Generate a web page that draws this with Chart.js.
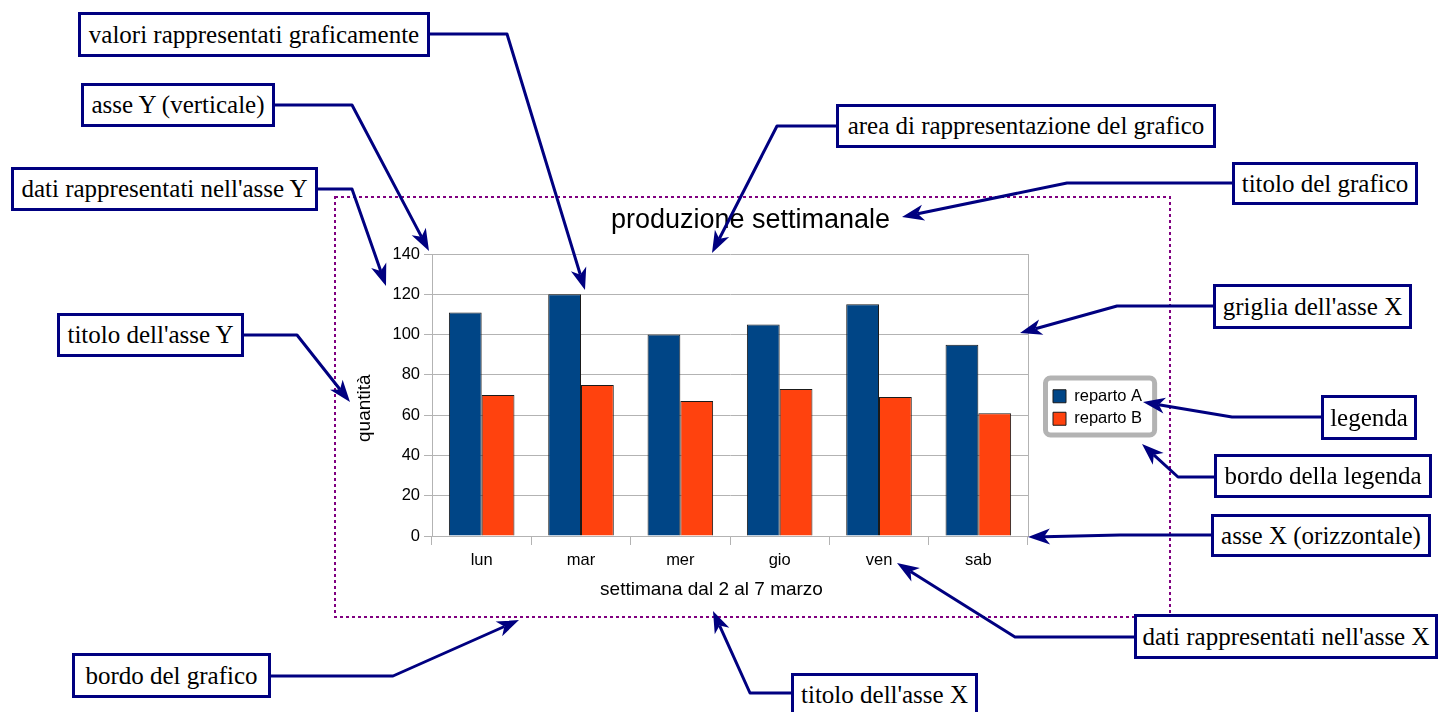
<!DOCTYPE html>
<html>
<head>
<meta charset="utf-8">
<script src="https://cdn.jsdelivr.net/npm/chart.js@4.4.0/dist/chart.umd.min.js"></script>
<style>
  body { margin: 0; background: #fff; }
  #pagina { position: relative; width: 1446px; height: 712px; overflow: hidden; }
  #grafico { position: absolute; left: 335px; top: 197px; width: 836px; height: 421px; }
  #frecce { position: absolute; left: 0; top: 0; }
  .nota { position: absolute; box-sizing: border-box; border: 3px solid #000080; background: #fff;
          font-family: 'Liberation Serif', serif; font-size: 25px; color: #000;
          display: flex; align-items: center; justify-content: center; white-space: nowrap; }
</style>
</head>
<body>
<div id="pagina">
  <div id="grafico"><canvas id="myChart" width="836" height="421"></canvas></div>
  <svg id="frecce" width="1446" height="712"></svg>
</div>
<script>
const giorni = ['lun', 'mar', 'mer', 'gio', 'ven', 'sab']
const repartoA = [111, 120, 100, 105, 115, 95]
const repartoB = [70, 75, 67, 73, 69, 61]
const tickY = [0, 20, 40, 60, 80, 100, 120, 140]

const ctx = document.getElementById('myChart').getContext('2d')

Chart.defaults.font.family = "'Liberation Sans', Arial, sans-serif"
Chart.defaults.color = '#000'

// bordo grigio arrotondato attorno alla legenda
const bordoLegenda = {
    id: 'bordoLegenda',
    afterDraw(chart) {
        const hb = chart.legend.legendHitBoxes
        if (!hb || !hb.length) return
        const c = chart.ctx
        const x0 = hb[0].left - 7.5
        const y0 = hb[0].top - 10
        const x1 = Math.max(...hb.map(h => h.left + h.width)) + 12.5
        const ultimo = hb[hb.length - 1]
        const y1 = ultimo.top + ultimo.height + 8
        c.save()
        c.strokeStyle = '#b3b3b3'
        c.lineWidth = 5
        c.beginPath()
        c.roundRect(x0, y0, x1 - x0, y1 - y0, 5)
        c.stroke()
        c.restore()
    }
}

const render = new Chart(ctx, {
    type: 'bar',
    data: {
        labels: giorni,
        datasets: [{
            label: 'reparto A',
            data: repartoA,
            backgroundColor: '#004586',
            borderColor: '#1a1a1a',
            borderWidth: 1
        }, {
            label: 'reparto B',
            data: repartoB,
            backgroundColor: '#ff420e',
            borderColor: '#1a1a1a',
            borderWidth: 1
        }]
    },
    options: {
        responsive: false,
        animation: false,
        categoryPercentage: 0.66,
        barPercentage: 1,
        layout: { padding: { left: 0, right: 20, top: 0, bottom: 0 } },
        plugins: {
            title: {
                display: true,
                text: '\u00a0\u00a0produzione settimanale',
                color: '#000',
                font: { size: 27, weight: 'normal' },
                padding: { top: 7.8, bottom: 16.8 }
            },
            legend: {
                position: 'right',
                maxWidth: 104,
                labels: {
                    boxWidth: 13,
                    boxHeight: 13,
                    padding: 6,
                    color: '#000',
                    font: { size: 16.5 }
                }
            },
            tooltip: { enabled: false }
        },
        scales: {
            x: {
                grid: { drawOnChartArea: false, color: '#b3b3b3', tickLength: 9 },
                border: { color: '#b3b3b3' },
                ticks: { padding: 6, font: { size: 16.5 } },
                title: {
                    display: true,
                    text: 'settimana dal 2 al 7 marzo' + '\u00a0'.repeat(7),
                    font: { size: 19 },
                    padding: { top: 0, bottom: 16.8 }
                },
                afterFit: s => { s.height = 82 }
            },
            y: {
                min: tickY[0],
                max: tickY[tickY.length - 1],
                grid: { color: '#b3b3b3', tickLength: 8 },
                border: { color: '#b3b3b3' },
                ticks: { padding: 4, font: { size: 16.5 } },
                afterBuildTicks: s => { s.ticks = tickY.map(v => ({ value: v })) },
                title: {
                    display: true,
                    text: 'quantità' + '\u00a0'.repeat(5),
                    font: { size: 19 },
                    padding: { top: 18.6, bottom: 0 }
                },
                afterFit: s => { s.width = 97 }
            },
            y2: {
                type: 'linear',
                position: 'right',
                grid: { display: false },
                border: { display: true, color: '#b3b3b3' },
                ticks: { display: false },
                afterFit: s => { s.width = 19 }
            }
        }
    },
    plugins: [bordoLegenda]
})

// annotazioni: testo, riquadro [sinistra, alto, destra, basso], percorso della freccia
const note = [
    ['valori rappresentati graficamente', [78, 12, 430, 57], [[430, 34], [507, 34], [585, 290]]],
    ['asse Y (verticale)', [81, 83, 275, 127], [[275, 105], [352, 105], [429, 251]]],
    ["dati rappresentati nell'asse Y", [11, 167, 318, 211], [[318, 189], [352, 189], [386, 286]]],
    ["titolo dell'asse Y", [57, 313, 244, 357], [[244, 335], [297, 335], [350, 402]]],
    ['bordo del grafico', [72, 653, 271, 698], [[271, 676], [393, 676], [519, 620]]],
    ["titolo dell'asse X", [791, 673, 978, 716], [[791, 693], [750, 693], [713, 611]]],
    ["dati rappresentati nell'asse X", [1134, 614, 1438, 659], [[1134, 637], [1015, 637], [897, 563]]],
    ['asse X (orizzontale)', [1211, 514, 1431, 557], [[1211, 535], [1120, 535], [1028, 537]]],
    ['bordo della legenda', [1214, 454, 1432, 498], [[1214, 477], [1178, 477], [1142, 444]]],
    ['legenda', [1321, 395, 1417, 440], [[1321, 417], [1232, 417], [1143, 402]]],
    ["griglia dell'asse X", [1213, 284, 1412, 329], [[1213, 306], [1117, 306], [1020, 333]]],
    ['titolo del grafico', [1232, 162, 1418, 205], [[1232, 183], [1067, 183], [902, 217]]],
    ['area di rappresentazione del grafico', [836, 104, 1216, 148], [[836, 126], [777, 126], [712, 253]]]
]

const svg = document.getElementById('frecce')
const NS = 'http://www.w3.org/2000/svg'

function elemento(tag, attr) {
    const el = document.createElementNS(NS, tag)
    for (const k in attr) el.setAttribute(k, attr[k])
    svg.appendChild(el)
    return el
}

// bordo del grafico (tratteggiato)
elemento('rect', { x: 335, y: 197, width: 835, height: 420, fill: 'none', stroke: '#800080', 'stroke-width': 2, 'stroke-dasharray': '3 3' })

function freccia(pts) {
    const [ex, ey] = pts[pts.length - 2]
    const [tx, ty] = pts[pts.length - 1]
    const len = Math.hypot(tx - ex, ty - ey)
    const ux = (tx - ex) / len, uy = (ty - ey) / len
    const nx = -uy, ny = ux
    const L = 22, W = 8, N = 16
    const bx = tx - ux * L, by = ty - uy * L
    const coda = pts.slice(0, -1).concat([[tx - ux * N, ty - uy * N]])
    elemento('polyline', { points: coda.map(p => p.join(',')).join(' '), fill: 'none', stroke: '#000080', 'stroke-width': 3, 'stroke-linejoin': 'round' })
    elemento('path', {
        d: `M${tx},${ty} L${bx + nx * W},${by + ny * W} L${tx - ux * N},${ty - uy * N} L${bx - nx * W},${by - ny * W} Z`,
        fill: '#000080'
    })
}

const pagina = document.getElementById('pagina')
note.forEach(([testo, box, pts]) => {
    freccia(pts)
    const d = document.createElement('div')
    d.className = 'nota'
    d.style.left = box[0] + 'px'
    d.style.top = box[1] + 'px'
    d.style.width = (box[2] - box[0]) + 'px'
    d.style.height = (box[3] - box[1]) + 'px'
    d.textContent = testo
    pagina.appendChild(d)
})
</script>
</body>
</html>
